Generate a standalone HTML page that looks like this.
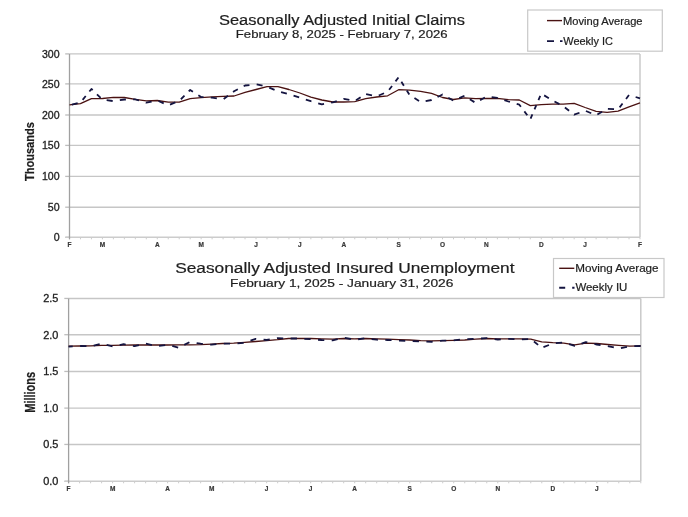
<!DOCTYPE html>
<html><head><meta charset="utf-8"><style>
html,body{margin:0;padding:0;background:#fff;width:688px;height:517px;overflow:hidden}
svg{display:block;filter:blur(0.35px)}
text{font-family:"Liberation Sans", sans-serif;stroke:#1e1e1e;stroke-width:0.2px}
</style></head><body>
<svg width="688" height="517" viewBox="0 0 688 517">
<rect width="688" height="517" fill="#fff"/>
<text x="219" y="24.5" font-size="14" font-weight="normal" textLength="246.0" lengthAdjust="spacingAndGlyphs" fill="#1e1e1e">Seasonally Adjusted Initial Claims</text>
<text x="235.8" y="37.8" font-size="10.8" font-weight="normal" textLength="211.8" lengthAdjust="spacingAndGlyphs" fill="#1e1e1e">February 8, 2025 - February 7, 2026</text>
<rect x="527.7" y="10" width="134.6" height="41.2" fill="#fff" stroke="#c8c8c8" stroke-width="1.2"/>
<line x1="547" y1="20.6" x2="562" y2="20.6" stroke="#4a1212" stroke-width="1.4"/>
<text x="563" y="24.7" font-size="10" font-weight="normal" textLength="79.5" lengthAdjust="spacingAndGlyphs" fill="#1e1e1e">Moving Average</text>
<line x1="547" y1="41.1" x2="562.5" y2="41.1" stroke="#141440" stroke-width="1.9" stroke-dasharray="7 6"/>
<text x="563.3" y="44.8" font-size="10" font-weight="normal" textLength="49.7" lengthAdjust="spacingAndGlyphs" fill="#1e1e1e">Weekly IC</text>
<line x1="69.5" y1="207.20" x2="640.0" y2="207.20" stroke="#c6c6c6" stroke-width="1.4"/>
<line x1="69.5" y1="176.40" x2="640.0" y2="176.40" stroke="#c6c6c6" stroke-width="1.4"/>
<line x1="69.5" y1="145.40" x2="640.0" y2="145.40" stroke="#c6c6c6" stroke-width="1.4"/>
<line x1="69.5" y1="115.00" x2="640.0" y2="115.00" stroke="#c6c6c6" stroke-width="1.4"/>
<line x1="69.5" y1="83.90" x2="640.0" y2="83.90" stroke="#c6c6c6" stroke-width="1.4"/>
<line x1="69.5" y1="53.90" x2="640.0" y2="53.90" stroke="#c6c6c6" stroke-width="1.4"/>
<line x1="640.0" y1="53.9" x2="640.0" y2="237.3" stroke="#c6c6c6" stroke-width="1.4"/>
<line x1="65.2" y1="237.30" x2="69.5" y2="237.30" stroke="#bdbdbd" stroke-width="1.3"/>
<line x1="65.2" y1="207.20" x2="69.5" y2="207.20" stroke="#bdbdbd" stroke-width="1.3"/>
<line x1="65.2" y1="176.40" x2="69.5" y2="176.40" stroke="#bdbdbd" stroke-width="1.3"/>
<line x1="65.2" y1="145.40" x2="69.5" y2="145.40" stroke="#bdbdbd" stroke-width="1.3"/>
<line x1="65.2" y1="115.00" x2="69.5" y2="115.00" stroke="#bdbdbd" stroke-width="1.3"/>
<line x1="65.2" y1="83.90" x2="69.5" y2="83.90" stroke="#bdbdbd" stroke-width="1.3"/>
<line x1="65.2" y1="53.90" x2="69.5" y2="53.90" stroke="#bdbdbd" stroke-width="1.3"/>
<line x1="69.50" y1="237.3" x2="69.50" y2="239.3" stroke="#cccccc" stroke-width="1"/>
<line x1="80.47" y1="237.3" x2="80.47" y2="239.3" stroke="#cccccc" stroke-width="1"/>
<line x1="91.44" y1="237.3" x2="91.44" y2="239.3" stroke="#cccccc" stroke-width="1"/>
<line x1="102.41" y1="237.3" x2="102.41" y2="239.3" stroke="#cccccc" stroke-width="1"/>
<line x1="113.38" y1="237.3" x2="113.38" y2="239.3" stroke="#cccccc" stroke-width="1"/>
<line x1="124.36" y1="237.3" x2="124.36" y2="239.3" stroke="#cccccc" stroke-width="1"/>
<line x1="135.33" y1="237.3" x2="135.33" y2="239.3" stroke="#cccccc" stroke-width="1"/>
<line x1="146.30" y1="237.3" x2="146.30" y2="239.3" stroke="#cccccc" stroke-width="1"/>
<line x1="157.27" y1="237.3" x2="157.27" y2="239.3" stroke="#cccccc" stroke-width="1"/>
<line x1="168.24" y1="237.3" x2="168.24" y2="239.3" stroke="#cccccc" stroke-width="1"/>
<line x1="179.21" y1="237.3" x2="179.21" y2="239.3" stroke="#cccccc" stroke-width="1"/>
<line x1="190.18" y1="237.3" x2="190.18" y2="239.3" stroke="#cccccc" stroke-width="1"/>
<line x1="201.15" y1="237.3" x2="201.15" y2="239.3" stroke="#cccccc" stroke-width="1"/>
<line x1="212.12" y1="237.3" x2="212.12" y2="239.3" stroke="#cccccc" stroke-width="1"/>
<line x1="223.10" y1="237.3" x2="223.10" y2="239.3" stroke="#cccccc" stroke-width="1"/>
<line x1="234.07" y1="237.3" x2="234.07" y2="239.3" stroke="#cccccc" stroke-width="1"/>
<line x1="245.04" y1="237.3" x2="245.04" y2="239.3" stroke="#cccccc" stroke-width="1"/>
<line x1="256.01" y1="237.3" x2="256.01" y2="239.3" stroke="#cccccc" stroke-width="1"/>
<line x1="266.98" y1="237.3" x2="266.98" y2="239.3" stroke="#cccccc" stroke-width="1"/>
<line x1="277.95" y1="237.3" x2="277.95" y2="239.3" stroke="#cccccc" stroke-width="1"/>
<line x1="288.92" y1="237.3" x2="288.92" y2="239.3" stroke="#cccccc" stroke-width="1"/>
<line x1="299.89" y1="237.3" x2="299.89" y2="239.3" stroke="#cccccc" stroke-width="1"/>
<line x1="310.87" y1="237.3" x2="310.87" y2="239.3" stroke="#cccccc" stroke-width="1"/>
<line x1="321.84" y1="237.3" x2="321.84" y2="239.3" stroke="#cccccc" stroke-width="1"/>
<line x1="332.81" y1="237.3" x2="332.81" y2="239.3" stroke="#cccccc" stroke-width="1"/>
<line x1="343.78" y1="237.3" x2="343.78" y2="239.3" stroke="#cccccc" stroke-width="1"/>
<line x1="354.75" y1="237.3" x2="354.75" y2="239.3" stroke="#cccccc" stroke-width="1"/>
<line x1="365.72" y1="237.3" x2="365.72" y2="239.3" stroke="#cccccc" stroke-width="1"/>
<line x1="376.69" y1="237.3" x2="376.69" y2="239.3" stroke="#cccccc" stroke-width="1"/>
<line x1="387.66" y1="237.3" x2="387.66" y2="239.3" stroke="#cccccc" stroke-width="1"/>
<line x1="398.63" y1="237.3" x2="398.63" y2="239.3" stroke="#cccccc" stroke-width="1"/>
<line x1="409.61" y1="237.3" x2="409.61" y2="239.3" stroke="#cccccc" stroke-width="1"/>
<line x1="420.58" y1="237.3" x2="420.58" y2="239.3" stroke="#cccccc" stroke-width="1"/>
<line x1="431.55" y1="237.3" x2="431.55" y2="239.3" stroke="#cccccc" stroke-width="1"/>
<line x1="442.52" y1="237.3" x2="442.52" y2="239.3" stroke="#cccccc" stroke-width="1"/>
<line x1="453.49" y1="237.3" x2="453.49" y2="239.3" stroke="#cccccc" stroke-width="1"/>
<line x1="464.46" y1="237.3" x2="464.46" y2="239.3" stroke="#cccccc" stroke-width="1"/>
<line x1="475.43" y1="237.3" x2="475.43" y2="239.3" stroke="#cccccc" stroke-width="1"/>
<line x1="486.40" y1="237.3" x2="486.40" y2="239.3" stroke="#cccccc" stroke-width="1"/>
<line x1="497.38" y1="237.3" x2="497.38" y2="239.3" stroke="#cccccc" stroke-width="1"/>
<line x1="508.35" y1="237.3" x2="508.35" y2="239.3" stroke="#cccccc" stroke-width="1"/>
<line x1="519.32" y1="237.3" x2="519.32" y2="239.3" stroke="#cccccc" stroke-width="1"/>
<line x1="530.29" y1="237.3" x2="530.29" y2="239.3" stroke="#cccccc" stroke-width="1"/>
<line x1="541.26" y1="237.3" x2="541.26" y2="239.3" stroke="#cccccc" stroke-width="1"/>
<line x1="552.23" y1="237.3" x2="552.23" y2="239.3" stroke="#cccccc" stroke-width="1"/>
<line x1="563.20" y1="237.3" x2="563.20" y2="239.3" stroke="#cccccc" stroke-width="1"/>
<line x1="574.17" y1="237.3" x2="574.17" y2="239.3" stroke="#cccccc" stroke-width="1"/>
<line x1="585.14" y1="237.3" x2="585.14" y2="239.3" stroke="#cccccc" stroke-width="1"/>
<line x1="596.12" y1="237.3" x2="596.12" y2="239.3" stroke="#cccccc" stroke-width="1"/>
<line x1="607.09" y1="237.3" x2="607.09" y2="239.3" stroke="#cccccc" stroke-width="1"/>
<line x1="618.06" y1="237.3" x2="618.06" y2="239.3" stroke="#cccccc" stroke-width="1"/>
<line x1="629.03" y1="237.3" x2="629.03" y2="239.3" stroke="#cccccc" stroke-width="1"/>
<line x1="640.00" y1="237.3" x2="640.00" y2="239.3" stroke="#cccccc" stroke-width="1"/>
<line x1="65.5" y1="237.3" x2="640.0" y2="237.3" stroke="#cccccc" stroke-width="1.4"/>
<line x1="69.5" y1="53.9" x2="69.5" y2="239.3" stroke="#a0a0a0" stroke-width="1.3"/>
<text x="53.70" y="241.10" font-size="10.3" textLength="5.9" lengthAdjust="spacingAndGlyphs" fill="#1e1e1e" style="stroke-width:0.3px">0</text>
<text x="47.80" y="211.00" font-size="10.3" textLength="11.8" lengthAdjust="spacingAndGlyphs" fill="#1e1e1e" style="stroke-width:0.3px">50</text>
<text x="42.00" y="180.20" font-size="10.3" textLength="17.6" lengthAdjust="spacingAndGlyphs" fill="#1e1e1e" style="stroke-width:0.3px">100</text>
<text x="42.00" y="149.20" font-size="10.3" textLength="17.6" lengthAdjust="spacingAndGlyphs" fill="#1e1e1e" style="stroke-width:0.3px">150</text>
<text x="42.00" y="118.80" font-size="10.3" textLength="17.6" lengthAdjust="spacingAndGlyphs" fill="#1e1e1e" style="stroke-width:0.3px">200</text>
<text x="42.00" y="87.70" font-size="10.3" textLength="17.6" lengthAdjust="spacingAndGlyphs" fill="#1e1e1e" style="stroke-width:0.3px">250</text>
<text x="42.00" y="57.70" font-size="10.3" textLength="17.6" lengthAdjust="spacingAndGlyphs" fill="#1e1e1e" style="stroke-width:0.3px">300</text>
<text x="69.50" y="246.8" font-size="6.5" font-weight="bold" text-anchor="middle" fill="#383838" style="stroke:#383838">F</text>
<text x="102.41" y="246.8" font-size="6.5" font-weight="bold" text-anchor="middle" fill="#383838" style="stroke:#383838">M</text>
<text x="157.27" y="246.8" font-size="6.5" font-weight="bold" text-anchor="middle" fill="#383838" style="stroke:#383838">A</text>
<text x="201.15" y="246.8" font-size="6.5" font-weight="bold" text-anchor="middle" fill="#383838" style="stroke:#383838">M</text>
<text x="256.01" y="246.8" font-size="6.5" font-weight="bold" text-anchor="middle" fill="#383838" style="stroke:#383838">J</text>
<text x="299.89" y="246.8" font-size="6.5" font-weight="bold" text-anchor="middle" fill="#383838" style="stroke:#383838">J</text>
<text x="343.78" y="246.8" font-size="6.5" font-weight="bold" text-anchor="middle" fill="#383838" style="stroke:#383838">A</text>
<text x="398.63" y="246.8" font-size="6.5" font-weight="bold" text-anchor="middle" fill="#383838" style="stroke:#383838">S</text>
<text x="442.52" y="246.8" font-size="6.5" font-weight="bold" text-anchor="middle" fill="#383838" style="stroke:#383838">O</text>
<text x="486.40" y="246.8" font-size="6.5" font-weight="bold" text-anchor="middle" fill="#383838" style="stroke:#383838">N</text>
<text x="541.26" y="246.8" font-size="6.5" font-weight="bold" text-anchor="middle" fill="#383838" style="stroke:#383838">D</text>
<text x="585.14" y="246.8" font-size="6.5" font-weight="bold" text-anchor="middle" fill="#383838" style="stroke:#383838">J</text>
<text x="640.00" y="246.8" font-size="6.5" font-weight="bold" text-anchor="middle" fill="#383838" style="stroke:#383838">F</text>
<text transform="translate(34.3,151.6) rotate(-90) scale(1,1.15)" x="0" y="0" font-size="11" font-weight="bold" text-anchor="middle" textLength="59" lengthAdjust="spacingAndGlyphs" fill="#1e1e1e">Thousands</text>
<polyline points="69.50,104.80 80.47,103.70 91.44,98.70 102.41,98.50 113.38,97.40 124.36,97.50 135.33,99.40 146.30,100.80 157.27,100.50 168.24,102.20 179.21,102.20 190.18,98.70 201.15,97.60 212.12,96.90 223.10,96.30 234.07,96.00 245.04,92.40 256.01,89.50 266.98,86.60 277.95,86.60 288.92,89.50 299.89,93.00 310.87,97.10 321.84,100.00 332.81,102.00 343.78,102.00 354.75,101.60 365.72,98.70 376.69,97.00 387.66,95.80 398.63,89.70 409.61,90.20 420.58,91.30 431.55,93.30 442.52,97.50 453.49,99.50 464.46,97.90 475.43,98.70 486.40,98.50 497.38,98.30 508.35,99.70 519.32,100.00 530.29,105.70 541.26,104.70 552.23,104.20 563.20,104.20 574.17,103.30 585.14,107.50 596.12,111.40 607.09,112.40 618.06,111.10 629.03,106.80 640.00,102.90" fill="none" stroke="#4a1212" stroke-width="1.3" stroke-linejoin="round"/>
<path d="M71.86 104.70 L77.66 103.22M82.63 99.85 L85.72 96.04M89.37 91.54 L91.44 89.00 L92.66 90.17M96.98 94.35 L100.65 97.89M106.64 100.18 L112.69 101.01M119.83 100.16 L124.36 99.50 L125.89 99.49M133.17 99.42 L135.33 99.40 L139.02 100.51M145.73 102.53 L146.30 102.70 L151.63 101.63M158.49 101.03 L163.74 103.33M169.99 104.60 L175.36 102.45M180.88 99.24 L184.48 95.67M188.73 91.45 L190.18 90.00 L192.92 91.74M198.35 95.21 L201.15 97.00 L203.54 97.15M210.79 97.61 L212.12 97.70 L216.84 98.43M223.70 98.95 L227.99 95.79M233.05 92.05 L234.07 91.30 L237.84 89.31M243.69 86.21 L245.04 85.50 L249.47 85.02M256.65 84.43 L262.56 85.67M269.27 87.58 L274.56 89.84M281.07 92.12 L286.84 93.65M293.54 95.67 L299.17 97.47M305.82 99.59 L310.87 101.20 L311.45 101.37M318.22 103.28 L321.84 104.30 L324.04 103.90M331.09 102.61 L332.81 102.30 L336.81 101.02M343.46 98.90 L343.78 98.80 L349.38 99.92M356.02 100.19 L360.61 97.26M366.13 94.09 L372.02 95.38M378.74 95.52 L384.03 93.26M389.11 89.79 L392.04 85.92M395.50 81.34 L398.43 77.47M401.39 81.67 L403.87 85.70M406.81 90.46 L409.29 94.49M414.45 98.09 L419.04 101.02M425.64 101.08 L431.55 100.00 L431.60 99.97M437.56 96.99 L442.52 94.50 L442.60 94.54M448.31 97.77 L453.14 100.50M459.25 98.08 L464.44 95.71M469.84 99.18 L474.40 102.13M480.05 100.19 L484.88 97.46M491.67 97.22 L497.38 97.90 L497.72 98.01M504.34 100.18 L508.35 101.50 L509.96 101.97M516.70 103.94 L519.32 104.70 L520.90 106.80M524.37 111.37 L527.29 115.24M530.58 118.53 L532.38 114.32M534.51 109.35 L536.31 105.14M538.44 100.17 L540.25 95.96M544.16 95.37 L548.85 98.23M554.49 101.51 L559.41 104.16M564.92 107.53 L569.09 110.77M574.03 114.59 L574.17 114.70 L579.47 112.77M585.93 111.03 L591.24 113.26M597.37 114.56 L602.11 111.75M607.90 108.84 L614.04 109.18M619.61 107.36 L622.56 103.50M626.04 98.93 L628.98 95.06M635.64 96.99 L640.00 98.30" fill="none" stroke="#141440" stroke-width="1.8" stroke-linejoin="round"/>
<text x="175.2" y="273.2" font-size="14" font-weight="normal" textLength="339.3" lengthAdjust="spacingAndGlyphs" fill="#1e1e1e">Seasonally Adjusted Insured Unemployment</text>
<text x="230.1" y="286.6" font-size="10.8" font-weight="normal" textLength="223.3" lengthAdjust="spacingAndGlyphs" fill="#1e1e1e">February 1, 2025 - January 31, 2026</text>
<rect x="553.5" y="258.5" width="110.5" height="39.0" fill="#fff" stroke="#c8c8c8" stroke-width="1.2"/>
<line x1="559.2" y1="268.3" x2="574.3" y2="268.3" stroke="#4a1212" stroke-width="1.4"/>
<text x="575.2" y="271.8" font-size="10.5" font-weight="normal" textLength="83.4" lengthAdjust="spacingAndGlyphs" fill="#1e1e1e">Moving Average</text>
<line x1="559.2" y1="287.8" x2="574.5" y2="287.8" stroke="#141440" stroke-width="1.9" stroke-dasharray="6 7"/>
<text x="575.4" y="291.0" font-size="10.5" font-weight="normal" textLength="52.0" lengthAdjust="spacingAndGlyphs" fill="#1e1e1e">Weekly IU</text>
<line x1="68.6" y1="444.45" x2="640.8" y2="444.45" stroke="#c6c6c6" stroke-width="1.4"/>
<line x1="68.6" y1="408.10" x2="640.8" y2="408.10" stroke="#c6c6c6" stroke-width="1.4"/>
<line x1="68.6" y1="371.45" x2="640.8" y2="371.45" stroke="#c6c6c6" stroke-width="1.4"/>
<line x1="68.6" y1="334.70" x2="640.8" y2="334.70" stroke="#c6c6c6" stroke-width="1.4"/>
<line x1="68.6" y1="298.45" x2="640.8" y2="298.45" stroke="#c6c6c6" stroke-width="1.4"/>
<line x1="640.8" y1="298.45" x2="640.8" y2="481.3" stroke="#c6c6c6" stroke-width="1.4"/>
<line x1="64.3" y1="481.30" x2="68.6" y2="481.30" stroke="#bdbdbd" stroke-width="1.3"/>
<line x1="64.3" y1="444.45" x2="68.6" y2="444.45" stroke="#bdbdbd" stroke-width="1.3"/>
<line x1="64.3" y1="408.10" x2="68.6" y2="408.10" stroke="#bdbdbd" stroke-width="1.3"/>
<line x1="64.3" y1="371.45" x2="68.6" y2="371.45" stroke="#bdbdbd" stroke-width="1.3"/>
<line x1="64.3" y1="334.70" x2="68.6" y2="334.70" stroke="#bdbdbd" stroke-width="1.3"/>
<line x1="64.3" y1="298.45" x2="68.6" y2="298.45" stroke="#bdbdbd" stroke-width="1.3"/>
<line x1="68.60" y1="481.3" x2="68.60" y2="483.3" stroke="#cccccc" stroke-width="1"/>
<line x1="79.60" y1="481.3" x2="79.60" y2="483.3" stroke="#cccccc" stroke-width="1"/>
<line x1="90.61" y1="481.3" x2="90.61" y2="483.3" stroke="#cccccc" stroke-width="1"/>
<line x1="101.61" y1="481.3" x2="101.61" y2="483.3" stroke="#cccccc" stroke-width="1"/>
<line x1="112.62" y1="481.3" x2="112.62" y2="483.3" stroke="#cccccc" stroke-width="1"/>
<line x1="123.62" y1="481.3" x2="123.62" y2="483.3" stroke="#cccccc" stroke-width="1"/>
<line x1="134.62" y1="481.3" x2="134.62" y2="483.3" stroke="#cccccc" stroke-width="1"/>
<line x1="145.63" y1="481.3" x2="145.63" y2="483.3" stroke="#cccccc" stroke-width="1"/>
<line x1="156.63" y1="481.3" x2="156.63" y2="483.3" stroke="#cccccc" stroke-width="1"/>
<line x1="167.63" y1="481.3" x2="167.63" y2="483.3" stroke="#cccccc" stroke-width="1"/>
<line x1="178.64" y1="481.3" x2="178.64" y2="483.3" stroke="#cccccc" stroke-width="1"/>
<line x1="189.64" y1="481.3" x2="189.64" y2="483.3" stroke="#cccccc" stroke-width="1"/>
<line x1="200.65" y1="481.3" x2="200.65" y2="483.3" stroke="#cccccc" stroke-width="1"/>
<line x1="211.65" y1="481.3" x2="211.65" y2="483.3" stroke="#cccccc" stroke-width="1"/>
<line x1="222.65" y1="481.3" x2="222.65" y2="483.3" stroke="#cccccc" stroke-width="1"/>
<line x1="233.66" y1="481.3" x2="233.66" y2="483.3" stroke="#cccccc" stroke-width="1"/>
<line x1="244.66" y1="481.3" x2="244.66" y2="483.3" stroke="#cccccc" stroke-width="1"/>
<line x1="255.67" y1="481.3" x2="255.67" y2="483.3" stroke="#cccccc" stroke-width="1"/>
<line x1="266.67" y1="481.3" x2="266.67" y2="483.3" stroke="#cccccc" stroke-width="1"/>
<line x1="277.67" y1="481.3" x2="277.67" y2="483.3" stroke="#cccccc" stroke-width="1"/>
<line x1="288.68" y1="481.3" x2="288.68" y2="483.3" stroke="#cccccc" stroke-width="1"/>
<line x1="299.68" y1="481.3" x2="299.68" y2="483.3" stroke="#cccccc" stroke-width="1"/>
<line x1="310.68" y1="481.3" x2="310.68" y2="483.3" stroke="#cccccc" stroke-width="1"/>
<line x1="321.69" y1="481.3" x2="321.69" y2="483.3" stroke="#cccccc" stroke-width="1"/>
<line x1="332.69" y1="481.3" x2="332.69" y2="483.3" stroke="#cccccc" stroke-width="1"/>
<line x1="343.70" y1="481.3" x2="343.70" y2="483.3" stroke="#cccccc" stroke-width="1"/>
<line x1="354.70" y1="481.3" x2="354.70" y2="483.3" stroke="#cccccc" stroke-width="1"/>
<line x1="365.70" y1="481.3" x2="365.70" y2="483.3" stroke="#cccccc" stroke-width="1"/>
<line x1="376.71" y1="481.3" x2="376.71" y2="483.3" stroke="#cccccc" stroke-width="1"/>
<line x1="387.71" y1="481.3" x2="387.71" y2="483.3" stroke="#cccccc" stroke-width="1"/>
<line x1="398.72" y1="481.3" x2="398.72" y2="483.3" stroke="#cccccc" stroke-width="1"/>
<line x1="409.72" y1="481.3" x2="409.72" y2="483.3" stroke="#cccccc" stroke-width="1"/>
<line x1="420.72" y1="481.3" x2="420.72" y2="483.3" stroke="#cccccc" stroke-width="1"/>
<line x1="431.73" y1="481.3" x2="431.73" y2="483.3" stroke="#cccccc" stroke-width="1"/>
<line x1="442.73" y1="481.3" x2="442.73" y2="483.3" stroke="#cccccc" stroke-width="1"/>
<line x1="453.73" y1="481.3" x2="453.73" y2="483.3" stroke="#cccccc" stroke-width="1"/>
<line x1="464.74" y1="481.3" x2="464.74" y2="483.3" stroke="#cccccc" stroke-width="1"/>
<line x1="475.74" y1="481.3" x2="475.74" y2="483.3" stroke="#cccccc" stroke-width="1"/>
<line x1="486.75" y1="481.3" x2="486.75" y2="483.3" stroke="#cccccc" stroke-width="1"/>
<line x1="497.75" y1="481.3" x2="497.75" y2="483.3" stroke="#cccccc" stroke-width="1"/>
<line x1="508.75" y1="481.3" x2="508.75" y2="483.3" stroke="#cccccc" stroke-width="1"/>
<line x1="519.76" y1="481.3" x2="519.76" y2="483.3" stroke="#cccccc" stroke-width="1"/>
<line x1="530.76" y1="481.3" x2="530.76" y2="483.3" stroke="#cccccc" stroke-width="1"/>
<line x1="541.77" y1="481.3" x2="541.77" y2="483.3" stroke="#cccccc" stroke-width="1"/>
<line x1="552.77" y1="481.3" x2="552.77" y2="483.3" stroke="#cccccc" stroke-width="1"/>
<line x1="563.77" y1="481.3" x2="563.77" y2="483.3" stroke="#cccccc" stroke-width="1"/>
<line x1="574.78" y1="481.3" x2="574.78" y2="483.3" stroke="#cccccc" stroke-width="1"/>
<line x1="585.78" y1="481.3" x2="585.78" y2="483.3" stroke="#cccccc" stroke-width="1"/>
<line x1="596.78" y1="481.3" x2="596.78" y2="483.3" stroke="#cccccc" stroke-width="1"/>
<line x1="607.79" y1="481.3" x2="607.79" y2="483.3" stroke="#cccccc" stroke-width="1"/>
<line x1="618.79" y1="481.3" x2="618.79" y2="483.3" stroke="#cccccc" stroke-width="1"/>
<line x1="629.80" y1="481.3" x2="629.80" y2="483.3" stroke="#cccccc" stroke-width="1"/>
<line x1="640.80" y1="481.3" x2="640.80" y2="483.3" stroke="#cccccc" stroke-width="1"/>
<line x1="64.6" y1="481.3" x2="640.8" y2="481.3" stroke="#cccccc" stroke-width="1.4"/>
<line x1="68.6" y1="298.45" x2="68.6" y2="483.3" stroke="#a0a0a0" stroke-width="1.3"/>
<text x="43.20" y="485.10" font-size="10.3" textLength="15.2" lengthAdjust="spacingAndGlyphs" fill="#1e1e1e" style="stroke-width:0.3px">0.0</text>
<text x="43.20" y="448.25" font-size="10.3" textLength="15.2" lengthAdjust="spacingAndGlyphs" fill="#1e1e1e" style="stroke-width:0.3px">0.5</text>
<text x="43.20" y="411.90" font-size="10.3" textLength="15.2" lengthAdjust="spacingAndGlyphs" fill="#1e1e1e" style="stroke-width:0.3px">1.0</text>
<text x="43.20" y="375.25" font-size="10.3" textLength="15.2" lengthAdjust="spacingAndGlyphs" fill="#1e1e1e" style="stroke-width:0.3px">1.5</text>
<text x="43.20" y="338.50" font-size="10.3" textLength="15.2" lengthAdjust="spacingAndGlyphs" fill="#1e1e1e" style="stroke-width:0.3px">2.0</text>
<text x="43.20" y="302.25" font-size="10.3" textLength="15.2" lengthAdjust="spacingAndGlyphs" fill="#1e1e1e" style="stroke-width:0.3px">2.5</text>
<text x="68.60" y="490.8" font-size="6.5" font-weight="bold" text-anchor="middle" fill="#383838" style="stroke:#383838">F</text>
<text x="112.62" y="490.8" font-size="6.5" font-weight="bold" text-anchor="middle" fill="#383838" style="stroke:#383838">M</text>
<text x="167.63" y="490.8" font-size="6.5" font-weight="bold" text-anchor="middle" fill="#383838" style="stroke:#383838">A</text>
<text x="211.65" y="490.8" font-size="6.5" font-weight="bold" text-anchor="middle" fill="#383838" style="stroke:#383838">M</text>
<text x="266.67" y="490.8" font-size="6.5" font-weight="bold" text-anchor="middle" fill="#383838" style="stroke:#383838">J</text>
<text x="310.68" y="490.8" font-size="6.5" font-weight="bold" text-anchor="middle" fill="#383838" style="stroke:#383838">J</text>
<text x="354.70" y="490.8" font-size="6.5" font-weight="bold" text-anchor="middle" fill="#383838" style="stroke:#383838">A</text>
<text x="409.72" y="490.8" font-size="6.5" font-weight="bold" text-anchor="middle" fill="#383838" style="stroke:#383838">S</text>
<text x="453.73" y="490.8" font-size="6.5" font-weight="bold" text-anchor="middle" fill="#383838" style="stroke:#383838">O</text>
<text x="497.75" y="490.8" font-size="6.5" font-weight="bold" text-anchor="middle" fill="#383838" style="stroke:#383838">N</text>
<text x="552.77" y="490.8" font-size="6.5" font-weight="bold" text-anchor="middle" fill="#383838" style="stroke:#383838">D</text>
<text x="596.78" y="490.8" font-size="6.5" font-weight="bold" text-anchor="middle" fill="#383838" style="stroke:#383838">J</text>
<text transform="translate(34.8,392.3) rotate(-90) scale(1,1.3)" x="0" y="0" font-size="11" font-weight="bold" text-anchor="middle" textLength="41" lengthAdjust="spacingAndGlyphs" fill="#1e1e1e">Millions</text>
<polyline points="68.60,346.20 79.60,346.00 90.61,345.80 101.61,345.30 112.62,345.30 123.62,345.10 134.62,345.00 145.63,345.00 156.63,345.00 167.63,345.00 178.64,344.90 189.64,344.80 200.65,344.70 211.65,344.10 222.65,343.50 233.66,343.20 244.66,342.40 255.67,341.50 266.67,340.60 277.67,339.70 288.68,338.50 299.68,338.30 310.68,338.50 321.69,338.90 332.69,339.20 343.70,338.50 354.70,338.90 365.70,338.50 376.71,338.90 387.71,339.20 398.72,339.70 409.72,340.00 420.72,340.60 431.73,340.80 442.73,340.60 453.73,340.40 464.74,340.00 475.74,339.20 486.75,338.50 497.75,338.90 508.75,338.90 519.76,338.90 530.76,339.20 541.77,341.80 552.77,342.70 563.77,343.20 574.78,344.80 585.78,343.10 596.78,343.50 607.79,344.50 618.79,345.40 629.80,346.20 640.80,345.80" fill="none" stroke="#4a1212" stroke-width="1.3" stroke-linejoin="round"/>
<path d="M68.60 346.60 L72.74 346.37M80.15 346.01 L86.44 346.19M93.69 345.54 L99.65 344.08M106.63 344.92 L112.54 346.48M119.67 345.03 L123.62 344.20 L125.73 344.58M132.93 345.89 L134.62 346.20 L138.93 345.14M145.95 343.58 L151.91 345.04M159.03 345.87 L165.21 345.03M172.27 345.96 L178.16 347.57M184.27 344.84 L189.40 342.22M196.63 343.12 L200.65 343.70 L202.83 343.90M210.19 344.57 L211.65 344.70 L216.43 344.18M223.78 343.53 L230.08 343.70M237.46 343.42 L243.70 342.80M250.48 340.69 L255.67 338.90 L256.20 338.95M263.55 339.69 L266.67 340.00 L269.73 339.47M276.95 338.22 L277.67 338.10 L283.23 338.30M290.65 338.50 L296.95 338.50M304.35 338.80 L310.63 339.20M318.02 339.73 L321.69 340.00 L324.30 340.09M331.71 340.36 L332.69 340.40 L337.72 339.17M344.77 337.90 L350.88 339.01M358.13 339.26 L364.33 338.47M371.64 339.06 L376.71 339.70 L377.86 339.73M385.28 339.93 L387.71 340.00 L391.57 340.21M398.98 340.61 L405.27 340.78M412.69 341.06 L418.97 341.40M426.39 341.65 L431.73 341.80 L432.67 341.70M440.02 340.90 L442.73 340.60 L446.28 340.54M453.71 340.40 L453.73 340.40 L459.94 339.72M467.30 339.13 L473.60 338.96M481.00 338.52 L486.75 338.10 L487.26 338.17M494.57 339.10 L497.75 339.50 L500.81 339.31M508.21 338.83 L508.75 338.80 L514.48 339.16M521.88 339.38 L528.16 339.04M533.95 341.48 L538.12 344.86M543.46 347.14 L548.98 344.98M555.85 343.19 L562.09 342.57M569.03 344.02 L574.78 345.80 L574.81 345.79M581.53 343.53 L585.78 342.10 L587.31 342.43M594.42 343.98 L596.78 344.50 L600.54 345.01M607.83 346.01 L613.84 347.37M620.93 348.05 L626.98 346.79M634.28 346.12 L640.58 346.00" fill="none" stroke="#141440" stroke-width="1.8" stroke-linejoin="round"/>
</svg>
</body></html>
